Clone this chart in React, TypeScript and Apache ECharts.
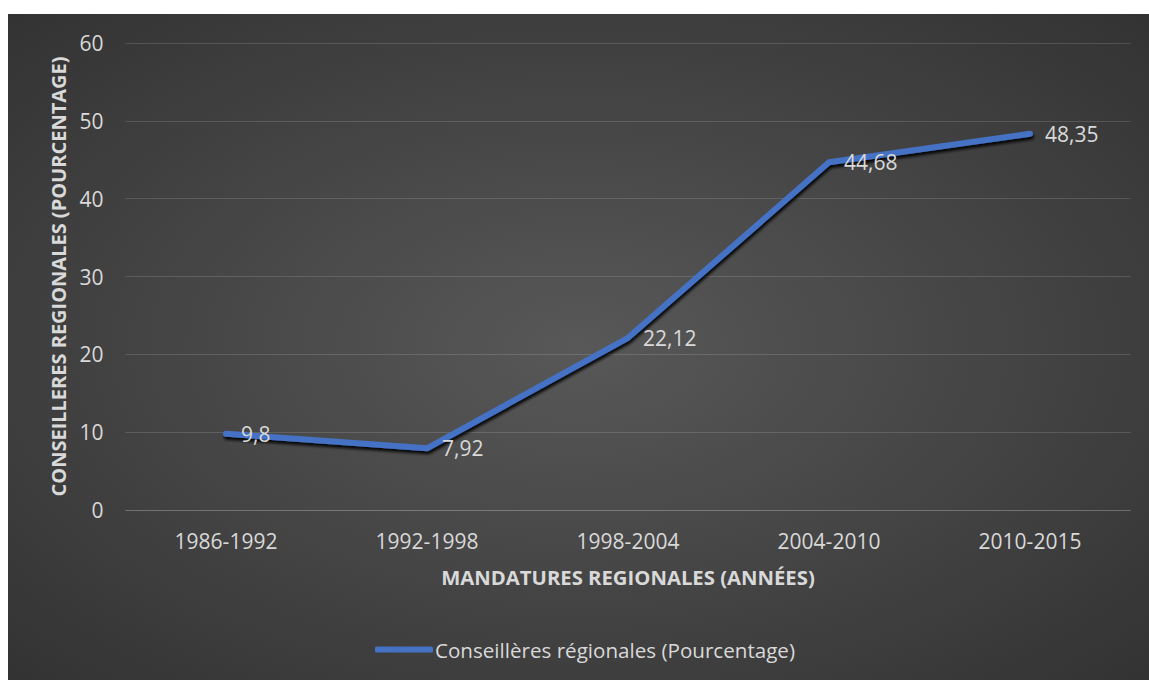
import React, { useEffect, useRef } from "react";
import * as echarts from "echarts";

const categories = ["1986-1992", "1992-1998", "1998-2004", "2004-2010", "2010-2015"];
const values = [9.8, 7.92, 22.12, 44.68, 48.35];
const seriesName = "Conseillères régionales (Pourcentage)";
const xTitle = "MANDATURES REGIONALES (ANNÉES)";
const yTitle = "CONSEILLERES REGIONALES (POURCENTAGE)";

const FONT = "'Open Sans', sans-serif";
const TEXT = "#d9d9d9";

export default function App() {
  const ref = useRef<HTMLDivElement>(null);
  useEffect(() => {
    if (!ref.current) return;
    const chart = echarts.init(ref.current, undefined, { renderer: "svg" });
    chart.setOption({
      animation: false,
      backgroundColor: {
        type: "radial",
        x: 0.5,
        y: 0.5,
        r: 1.0,
        colorStops: [
          { offset: 0, color: "#585858" },
          { offset: 1, color: "#232323" },
        ],
      },
      textStyle: { fontFamily: FONT },
      grid: { left: 117.5, right: 18.5, top: 29, bottom: 170, containLabel: false },
      legend: {
        show: true,
        left: 362,
        top: 620,
        icon: "roundRect",
        itemWidth: 58,
        itemHeight: 6,
        itemGap: 10,
        textStyle: { color: TEXT, fontSize: 20.6, fontFamily: FONT, padding: [0, 0, 0, -3] },
        data: [{ name: seriesName, itemStyle: { color: "#4472C4" } }],
      },
      xAxis: {
        type: "category",
        data: categories,
        boundaryGap: true,
        axisLine: { show: true, lineStyle: { color: "rgba(255,255,255,0.14)", width: 1 } },
        axisTick: { show: false },
        axisLabel: { color: TEXT, fontSize: 21, margin: 20, fontFamily: FONT },
        name: xTitle,
        nameLocation: "middle",
        nameGap: 57,
        nameTextStyle: { color: TEXT, fontSize: 20.3, fontWeight: "bold", fontFamily: FONT },
      },
      yAxis: {
        type: "value",
        min: 0,
        max: 60,
        interval: 10,
        axisLine: { show: false },
        axisTick: { show: false },
        splitLine: { show: true, lineStyle: { color: "rgba(255,255,255,0.14)", width: 1 } },
        axisLabel: { color: TEXT, fontSize: 21, margin: 22, fontFamily: FONT },
        name: yTitle,
        nameLocation: "middle",
        nameRotate: 90,
        nameGap: 57,
        nameTextStyle: { color: TEXT, fontSize: 20, fontWeight: "bold", fontFamily: FONT },
      },
      series: [
        {
          name: seriesName,
          type: "line",
          data: values,
          symbol: "circle",
          symbolSize: 0,
          showSymbol: true,
          itemStyle: { color: "#4472C4" },
          lineStyle: {
            color: "#4472C4",
            width: 6,
            cap: "round",
            join: "round",
            shadowColor: "rgba(0,0,0,0.9)",
            shadowBlur: 3,
            shadowOffsetX: 1,
            shadowOffsetY: 3,
          },
          label: {
            show: true,
            position: "right",
            distance: 15,
            color: TEXT,
            fontSize: 21,
            fontFamily: FONT,
            formatter: (p: any) => String(p.value).replace(".", ","),
          },
          emphasis: { disabled: true },
        },
      ],
    });
    return () => chart.dispose();
  }, []);
  return (
    <div
      ref={ref}
      style={{ position: "absolute", left: 8, top: 14, width: 1141, height: 666 }}
    />
  );
}
